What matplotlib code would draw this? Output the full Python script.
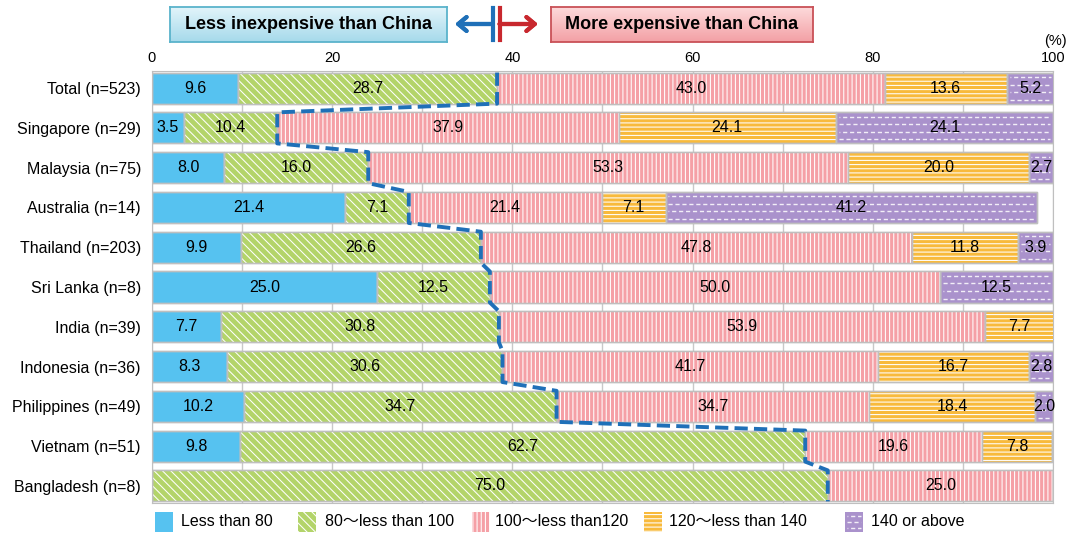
import matplotlib
matplotlib.use("Agg")
import matplotlib.pyplot as plt
from matplotlib.patches import Rectangle
import numpy as np

plt.rcParams['font.family'] = ['Liberation Sans', 'Noto Sans CJK JP', 'DejaVu Sans']
plt.rcParams['hatch.linewidth'] = 0.75

labels = ["Total (n=523)", "Singapore (n=29)", "Malaysia (n=75)", "Australia (n=14)",
          "Thailand (n=203)", "Sri Lanka (n=8)", "India (n=39)", "Indonesia (n=36)",
          "Philippines (n=49)", "Vietnam (n=51)", "Bangladesh (n=8)"]
lt80 = [9.6, 3.5, 8.0, 21.4, 9.9, 25.0, 7.7, 8.3, 10.2, 9.8, 0]
r80_100 = [28.7, 10.4, 16.0, 7.1, 26.6, 12.5, 30.8, 30.6, 34.7, 62.7, 75.0]
r100_120 = [43.0, 37.9, 53.3, 21.4, 47.8, 50.0, 53.9, 41.7, 34.7, 19.6, 25.0]
r120_140 = [13.6, 24.1, 20.0, 7.1, 11.8, 0, 7.7, 16.7, 18.4, 7.8, 0]
ge140 = [5.2, 24.1, 2.7, 41.2, 3.9, 12.5, 0, 2.8, 2.0, 0, 0]

series = [lt80, r80_100, r100_120, r120_140, ge140]
names = ["Less than 80", "80～less than 100", "100～less than120", "120～less than 140", "140 or above"]
colors = ["#56C2F0", "#B3D46A", "#F5A0A6", "#F8BA3C", "#AA92CC"]
hatches = [None, "\\\\\\\\", "||||", "----", None]
EDGE = "#BFBFBF"

W, H = 1071, 535
def fx(p): return p / W
def fy(p): return 1 - p / H

fig = plt.figure(figsize=(W/100, H/100), dpi=100)
ax = fig.add_axes([fx(152), fy(503), fx(1053) - fx(152), fy(71) - fy(503)])

y = np.arange(len(labels))
h = 0.78
left = np.zeros(len(labels))
for i, (vals, col, hat) in enumerate(zip(series, colors, hatches)):
    vals = np.array(vals)
    ax.barh(y, vals, left=left, height=h, color=col, edgecolor=EDGE, linewidth=1, zorder=2)
    if hat:
        ax.barh(y, vals, left=left, height=h, color="none", edgecolor="white",
                hatch=hat, linewidth=0, zorder=3)
    if i == 4:
        # purple segments get rows of short white dashes
        for yi, v, l in zip(y, vals, left):
            if v <= 0:
                continue
            for k, off in enumerate([-0.28, -0.09, 0.10, 0.29]):
                ax.hlines(yi + off, l + 0.3, l + v - 0.3, colors="white", lw=1.0, alpha=0.85,
                          linestyles=[(0 if k % 2 else 2.4, (3, 2))], zorder=3)
    ax.barh(y, vals, left=left, height=h, color="none", edgecolor=EDGE, linewidth=1, zorder=3)
    for yi, v, l in zip(y, vals, left):
        if v > 0:
            ax.text(l + v/2, yi, f"{v:.1f}", ha="center", va="center",
                    fontsize=11.5, color="black", zorder=5)
    left = left + vals

# dashed line along the cheaper / pricier boundary
b = np.array(lt80) + np.array(r80_100)
px, py = [], []
for yi, bi in zip(y, b):
    px += [bi, bi]
    py += [yi - h/2, yi + h/2]
ax.plot(px, py, color="#1F70B8", lw=2.8, ls=(0, (3.4, 1.6)), zorder=6, clip_on=False)

ax.set_xlim(0, 100)
ax.set_ylim(len(labels) - 0.57, -0.43)
ax.set_yticks(y)
ax.set_yticklabels(labels, fontsize=11.5)
ax.set_xticks([0, 20, 40, 60, 80, 100])
ax.set_xticks(np.arange(0, 101, 10), minor=True)
ax.xaxis.tick_top()
ax.tick_params(axis="x", length=0, which="both", labelsize=10.5, pad=4)
ax.tick_params(axis="y", length=0, pad=8)
ax.grid(axis="x", which="both", color="#C8C8C8", lw=1, zorder=0)
ax.set_axisbelow(True)
for s in ax.spines.values():
    s.set_color(EDGE)
ax.text(fx(1055), fy(41), "(%)", transform=fig.transFigure, ha="center", va="center",
        fontsize=10.5)

# header boxes with a soft vertical gradient
def header_box(x0, x1, top, bottom, ctop, cbot, edge, text):
    bax = fig.add_axes([fx(x0), fy(bottom), fx(x1) - fx(x0), fy(top) - fy(bottom)])
    c0 = np.array(matplotlib.colors.to_rgb(ctop))
    c1 = np.array(matplotlib.colors.to_rgb(cbot))
    t = np.linspace(0, 1, 64)[:, None, None]
    grad = c0 * (1 - t) + c1 * t
    bax.imshow(grad, aspect="auto", extent=[0, 1, 0, 1])
    bax.set_xticks([])
    bax.set_yticks([])
    for s in bax.spines.values():
        s.set_color(edge)
        s.set_linewidth(1.3)
    bax.text(0.5, 0.5, text, ha="center", va="center", fontsize=13, fontweight="bold",
             transform=bax.transAxes)

header_box(170, 447, 7, 42, "#E2F4FA", "#A6DAEB", "#5AB3CB", "Less inexpensive than China")
header_box(551, 813, 7, 42, "#FDDADB", "#F3A0A5", "#C95157", "More expensive than China")

fig.add_artist(plt.Line2D([fx(493), fx(493)], [fy(8), fy(40)], color="#1F70B8", lw=3))
fig.add_artist(plt.Line2D([fx(499.5), fx(499.5)], [fy(8), fy(40)], color="#C8282E", lw=3))
for x_tip, x_tail, col in [(455, 493, "#1F70B8"), (538, 499.5, "#C8282E")]:
    fig.add_artist(plt.annotate("", xy=(fx(x_tip), fy(24)), xytext=(fx(x_tail), fy(24)),
                   xycoords="figure fraction",
                   arrowprops=dict(arrowstyle="->,head_length=0.6,head_width=0.5",
                                   color=col, lw=3, shrinkA=0, shrinkB=0)))

# legend along the bottom
patch_x = [155, 298, 472, 644, 845]
text_x = [181, 325, 495, 669, 871]
for px0, tx, col, hat, name, i in zip(patch_x, text_x, colors, hatches, names, range(5)):
    r = Rectangle((fx(px0), fy(532)), fx(18), 20 / H, transform=fig.transFigure,
                  facecolor=col, edgecolor="white" if hat else EDGE, hatch=hat, lw=0)
    fig.patches.append(r)
    if i == 4:
        for k, yy in enumerate([516, 522, 528]):
            fig.add_artist(plt.Line2D([fx(px0 + 2), fx(px0 + 16)], [fy(yy), fy(yy)],
                                      color="white", lw=1.0, alpha=0.85,
                                      ls=(0 if k % 2 else 2.4, (3, 2))))
    fig.text(fx(tx), fy(522), name, ha="left", va="center", fontsize=11.5)

fig.savefig("out.png", dpi=100)
